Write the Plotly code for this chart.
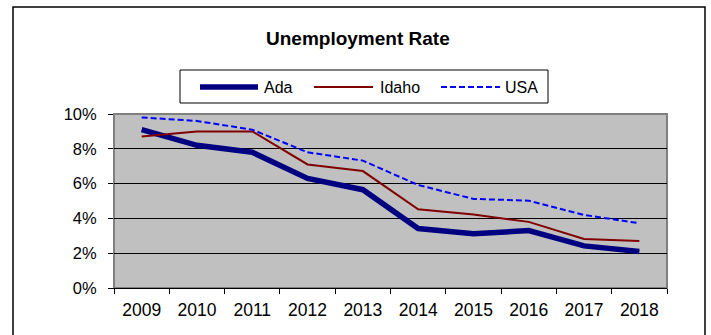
import plotly.graph_objects as go

# Annual unemployment rate (%), 2009-2018
years = ["2009", "2010", "2011", "2012", "2013", "2014", "2015", "2016", "2017", "2018"]
ada = [9.1, 8.2, 7.8, 6.3, 5.65, 3.42, 3.12, 3.3, 2.42, 2.1]
idaho = [8.7, 9.0, 9.0, 7.1, 6.72, 4.52, 4.22, 3.8, 2.82, 2.7]
usa = [9.8, 9.6, 9.1, 7.8, 7.32, 5.92, 5.12, 5.02, 4.2, 3.72]

series_names = ["Ada", "Idaho", "USA"]
series_values = [ada, idaho, usa]
series_styles = [
    dict(color="#000080", width=5.5, dash="solid"),
    dict(color="#800000", width=2, dash="solid"),
    dict(color="#0000FF", width=2, dash="6px,3px"),
]

FONT = "Liberation Sans, Arial, sans-serif"
W, H = 711, 335
L, R, T, B = 114, 44, 114, 47
PW, PH = W - L - R, H - T - B


def px_x(px):
    return (px - L) / PW


def px_y(py):
    return (H - B - py) / PH


fig = go.Figure()
for name, vals, style in zip(series_names, series_values, series_styles):
    fig.add_trace(go.Scatter(
        x=years, y=[v / 100 for v in vals], mode="lines", name=name,
        line=dict(color=style["color"], width=style["width"], dash=style["dash"]),
        showlegend=False,
    ))

shapes = [
    # outer chart frame
    dict(type="rect", xref="paper", yref="paper",
         x0=px_x(13), x1=px_x(705), y0=px_y(345), y1=px_y(7),
         line=dict(color="black", width=1.5), fillcolor="rgba(0,0,0,0)", layer="below"),
    # plot area border
    dict(type="rect", xref="paper", yref="paper", x0=0, x1=1, y0=0, y1=1,
         line=dict(color="#808080", width=2), fillcolor="rgba(0,0,0,0)", layer="below"),
    # legend box
    dict(type="rect", xref="paper", yref="paper",
         x0=px_x(180), x1=px_x(548), y0=px_y(103), y1=px_y(70),
         line=dict(color="black", width=1), fillcolor="white"),
]

annotations = [
    dict(text="<b>Unemployment Rate</b>", xref="paper", yref="paper",
         x=px_x(358), y=px_y(39), showarrow=False,
         font=dict(family=FONT, size=19, color="black"),
         xanchor="center", yanchor="middle"),
]

# legend swatches and labels
legend_line_x = [(200, 258), (314, 373), (441, 500)]
legend_text_x = [262, 378, 503]
legend_y = 87
for name, style, (lx0, lx1), tx in zip(series_names, series_styles, legend_line_x, legend_text_x):
    shapes.append(dict(type="line", xref="paper", yref="paper",
                       x0=px_x(lx0), x1=px_x(lx1), y0=px_y(legend_y), y1=px_y(legend_y),
                       line=dict(color=style["color"], width=style["width"], dash=style["dash"])))
    annotations.append(dict(text=name, xref="paper", yref="paper",
                            x=px_x(tx), y=px_y(legend_y), showarrow=False,
                            xanchor="left", yanchor="middle",
                            font=dict(family=FONT, size=16, color="black")))

fig.update_layout(
    width=W, height=H,
    margin=dict(l=L, r=R, t=T, b=B, pad=0),
    paper_bgcolor="white",
    plot_bgcolor="#C0C0C0",
    font=dict(family=FONT, size=16, color="black"),
    shapes=shapes,
    annotations=annotations,
    xaxis=dict(
        type="category", range=[-0.5, 9.5],
        tickson="boundaries", ticks="outside", ticklen=5, tickcolor="black",
        showline=True, linecolor="black", linewidth=1,
        showgrid=False, zeroline=False,
        tickfont=dict(size=17.5), ticklabelstandoff=6,
    ),
    yaxis=dict(
        range=[0, 0.1], dtick=0.02, tickformat=".0%",
        ticks="outside", ticklen=5, tickcolor="black",
        showline=True, linecolor="#808080", linewidth=1,
        showgrid=True, gridcolor="black", gridwidth=1,
        zeroline=False, tickfont=dict(size=16.5), ticklabelstandoff=8,
    ),
)

fig.write_html("out.html")
